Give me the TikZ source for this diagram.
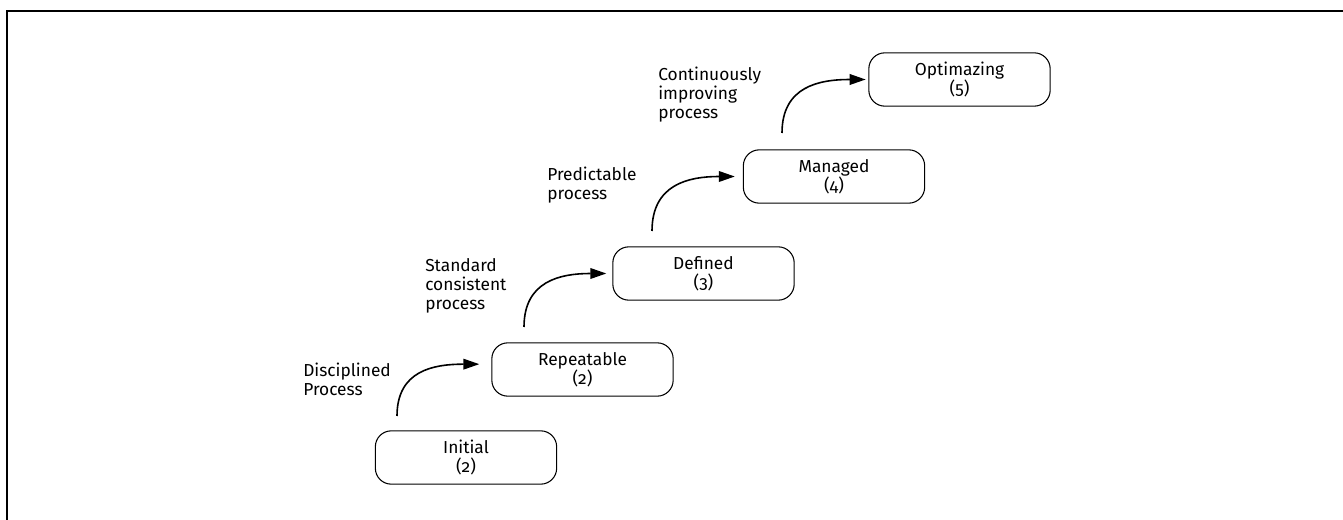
\documentclass[tikz,border=0pt]{standalone}
\usepackage{fontspec}
\setmainfont[Numbers=OldStyle]{Fira Sans}
\usetikzlibrary{shapes, positioning, arrows.meta}

\begin{document}
\begin{tikzpicture}[x=0.75pt, y=-0.75pt]

  \tikzstyle{level} = [rectangle, rounded corners=12pt, draw, line width=0.8pt, align=center, minimum width=136pt, minimum height=40pt, font=\fontsize{13}{14.25}\selectfont];
  \tikzstyle{note} = [align=left, anchor=north west, inner sep=0pt, font=\fontsize{13}{14.25}\selectfont];
  \tikzstyle{climb} = [line width=1.2pt, -{Triangle[length=12pt, width=8pt]}];

  \useasboundingbox (0,0) rectangle (1343,520);
  \draw[line width=1.5pt] (7,520) -- (7,11) -- (1343,11);

  \node[level] (initial) at (466,457.5) {Initial\\(2)};
  \node[level] (repeatable) at (582.5,369.5) {Repeatable\\(2)};
  \node[level] (defined) at (703.5,273.5) {Defined\\(3)};
  \node[level] (managed) at (834,176.5) {Managed\\(4)};
  \node[level] (optimazing) at (959.5,79.5) {Optimazing\\(5)};

  \coordinate (s1) at (397,416);
  \coordinate (s2) at (524,327);
  \coordinate (s3) at (652,231);
  \coordinate (s4) at (782,133);

  \draw[climb] (s1) to[out=90, in=180, looseness=1.2] ([xshift=-9pt, yshift=4pt]repeatable.west);
  \draw[climb] (s2) to[out=90, in=180, looseness=1.2] ([xshift=-4.5pt]defined.west);
  \draw[climb] (s3) to[out=90, in=180, looseness=1.2] ([xshift=-6pt]managed.west);
  \draw[climb] (s4) to[out=90, in=180, looseness=1.2] ([xshift=-2pt]optimazing.west);

  \node[note] (disciplined) at (303,363) {Disciplined\\Process};
  \node[note] (standard) at (425,258) {Standard\\consistent\\process};
  \node[note] (predictable) at (547,167) {Predictable\\process};
  \node[note] (continuous) at (658,67) {Continuously\\improving\\process};
\end{tikzpicture}
\end{document}
